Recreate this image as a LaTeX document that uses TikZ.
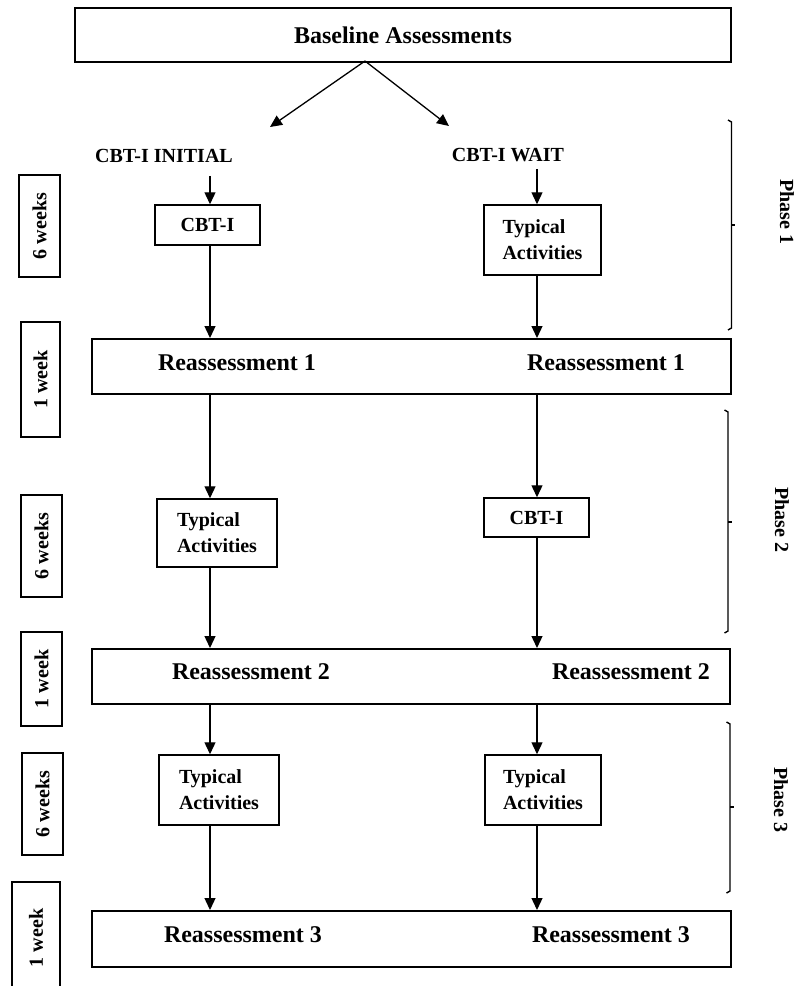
\documentclass[tikz,border=0pt]{standalone}
\usepackage{fontspec}
\setmainfont{Liberation Serif}
\usetikzlibrary{arrows.meta}

\tikzset{
  bigbox/.style={draw, line width=2pt, inner sep=0pt, font=\bfseries\fontsize{24}{28}\selectfont},
  smallbox/.style={draw, line width=1.5pt, inner sep=0pt, align=left, font=\bfseries\fontsize{20}{26}\selectfont},
  weekbox/.style={draw, line width=1.5pt, inner sep=0pt, rotate=90, font=\bfseries\fontsize{20}{24}\selectfont},
  reasstext/.style={inner sep=0pt, font=\bfseries\fontsize{24}{28}\selectfont},
  grouptext/.style={inner sep=0pt, font=\bfseries\fontsize{20}{24}\selectfont},
  phasetext/.style={inner sep=0pt, rotate=-90, font=\bfseries\fontsize{20}{24}\selectfont},
  arr/.style={line width=1.3pt, -{Triangle[length=12pt,width=11pt]}},
  bracket/.style={line width=1.4pt}
}

\begin{document}
\begin{tikzpicture}[x=1pt,y=1pt,yscale=-1,xscale=1]
\path[use as bounding box] (0,0) rectangle (794,986);

%Shape: Rectangle
\node[bigbox, minimum width=656pt, minimum height=54pt] (base) at (403,35) {Baseline Assessments};
\coordinate (split) at (365,61);
\coordinate (toA) at (270,127);
\coordinate (toB) at (449,126);
\coordinate (colA) at (210,0);
\coordinate (colB) at (537,0);

% Text Node
\node[grouptext] (grpA) at (164,156) {CBT-I INITIAL};
% Text Node
\node[grouptext] (grpB) at (508,155) {CBT-I WAIT};

% Phase 1
\node[smallbox, minimum width=105pt, minimum height=40pt] (cbtA) at (207.5,225) {CBT-I};
\node[smallbox, minimum width=117pt, minimum height=70pt] (typB) at (542.5,240) {Typical\\Activities};
\node[bigbox, minimum width=639pt, minimum height=55pt] (reass1) at (411.5,366.5) {};
\node[reasstext] (r1a) at (237,363) {Reassessment 1};
\node[reasstext] (r1b) at (606,363) {Reassessment 1};

% Phase 2
\node[smallbox, minimum width=120pt, minimum height=68pt] (typA2) at (217,533) {Typical\\Activities};
\node[smallbox, minimum width=105pt, minimum height=39pt] (cbtB2) at (536.5,517.5) {CBT-I};
\node[bigbox, minimum width=638pt, minimum height=55pt] (reass2) at (411,676.5) {};
\node[reasstext] (r2a) at (251,672) {Reassessment 2};
\node[reasstext] (r2b) at (631,672) {Reassessment 2};

% Phase 3
\node[smallbox, minimum width=120pt, minimum height=70pt] (typA3) at (219,790) {Typical\\Activities};
\node[smallbox, minimum width=116pt, minimum height=70pt] (typB3) at (543,790) {Typical\\Activities};
\node[bigbox, minimum width=639pt, minimum height=56pt] (reass3) at (411.5,939) {};
\node[reasstext] (r3a) at (243,935) {Reassessment 3};
\node[reasstext] (r3b) at (611,935) {Reassessment 3};

% Weeks
\node[weekbox, minimum width=102pt, minimum height=41pt] (wk1) at (39.5,226) {6 weeks};
\node[weekbox, minimum width=115pt, minimum height=39pt] (wk2) at (40.5,379.5) {1 week};
\node[weekbox, minimum width=102pt, minimum height=41pt] (wk3) at (41.5,546) {6 weeks};
\node[weekbox, minimum width=94pt, minimum height=41pt] (wk4) at (41.5,679) {1 week};
\node[weekbox, minimum width=102pt, minimum height=41pt] (wk5) at (42.5,804) {6 weeks};
\node[weekbox, minimum width=112pt, minimum height=48pt] (wk6) at (36,938) {1 week};

% Brackets
\draw[bracket] (728,120) -- (731.5,122) -- (731.5,328) -- (728,330);
\draw[bracket] (731.5,225) -- (735,225);
\draw[bracket] (724.5,410) -- (728,412) -- (728,631) -- (724.5,633);
\draw[bracket] (728,522) -- (732,522);
\draw[bracket] (726.5,722) -- (730,724) -- (730,891) -- (726.5,893);
\draw[bracket] (730,807) -- (733.5,807);

% Text Node
\node[phasetext] (ph1) at (787,212) {Phase 1};
\node[phasetext] (ph2) at (782,520) {Phase 2};
\node[phasetext] (ph3) at (781,800) {Phase 3};

% Connection
\draw[arr] (split) -- (toA);
\draw[arr] (split) -- (toB);
\draw[arr, shorten <=13pt] (grpA.south -| colA) -- (cbtA.north -| colA);
\draw[arr, shorten <=7pt] (grpB.south -| colB) -- (typB.north -| colB);
\draw[arr] (cbtA.south -| colA) -- (reass1.north -| colA);
\draw[arr] (typB.south -| colB) -- (reass1.north -| colB);
\draw[arr] (reass1.south -| colA) -- (typA2.north -| colA);
\draw[arr] (reass1.south -| colB) -- (cbtB2.north -| colB);
\draw[arr] (typA2.south -| colA) -- (reass2.north -| colA);
\draw[arr] (cbtB2.south -| colB) -- (reass2.north -| colB);
\draw[arr] (reass2.south -| colA) -- (typA3.north -| colA);
\draw[arr] (reass2.south -| colB) -- (typB3.north -| colB);
\draw[arr] (typA3.south -| colA) -- (reass3.north -| colA);
\draw[arr] (typB3.south -| colB) -- (reass3.north -| colB);

\end{tikzpicture}
\end{document}
